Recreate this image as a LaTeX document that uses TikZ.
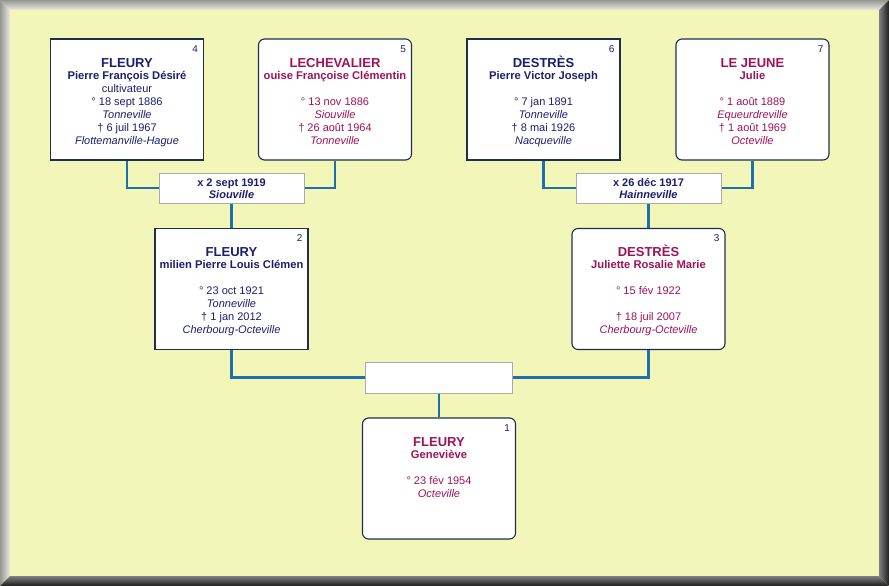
\documentclass[tikz,border=0pt]{standalone}
\usepackage{fontspec}
\setmainfont{Liberation Sans}
\definecolor{bgyel}{RGB}{243,246,185}
\definecolor{mtext}{RGB}{28,30,110}
\definecolor{ftext}{RGB}{158,18,88}
\definecolor{boxline}{RGB}{30,45,80}
\definecolor{conn}{RGB}{30,112,170}
\definecolor{mline}{RGB}{170,170,170}
\definecolor{bevlo}{RGB}{150,150,145}
\definecolor{bevli}{RGB}{235,235,228}
\definecolor{bevdo}{RGB}{30,30,30}
\definecolor{bevdi}{RGB}{128,128,128}
\tikzset{
 pbox/.style={draw=boxline, fill=white, line width=1.1pt, minimum width=153pt, minimum height=121pt, inner sep=0pt},
 febox/.style={pbox, rounded corners=6pt},
 mbox/.style={draw=mline, fill=white, line width=1pt, minimum width=145pt, minimum height=30pt, inner sep=0pt},
 link/.style={draw=conn, line width=2.5pt},
 txt/.style={anchor=base, inner sep=0pt, font=\fontsize{11}{13}\selectfont},
 sur/.style={anchor=base, inner sep=0pt, font=\fontsize{13}{15}\selectfont\bfseries},
 giv/.style={anchor=base, inner sep=0pt, font=\fontsize{11.2}{13}\selectfont\bfseries},
 plc/.style={anchor=base, inner sep=0pt, font=\fontsize{11}{13}\selectfont\itshape},
 num/.style={anchor=base east, inner sep=0pt, font=\fontsize{10}{12}\selectfont, text=mtext},
 mdate/.style={anchor=base, inner sep=0pt, font=\fontsize{11}{13}\selectfont\bfseries, text=mtext},
 mplace/.style={anchor=base, inner sep=0pt, font=\fontsize{11}{13}\selectfont\bfseries\itshape, text=mtext},
}
\begin{document}
\begin{tikzpicture}[x=1pt,y=-1pt]
\useasboundingbox (0,0) rectangle (889,586);
% frame
\fill[bgyel] (0,0) rectangle (889,586);
\shade[top color=bevlo, bottom color=bevli] (0,0) -- (889,0) -- (879,10) -- (10,10) -- cycle;
\shade[left color=bevlo, right color=bevli] (0,0) -- (10,10) -- (10,576) -- (0,586) -- cycle;
\shade[left color=bevdi, right color=bevdo] (889,0) -- (889,586) -- (879,576) -- (879,10) -- cycle;
\shade[top color=bevdi, bottom color=bevdo] (0,586) -- (10,576) -- (879,576) -- (889,586) -- cycle;

% boxes
\node[pbox] (p4) at (127,99.5) {};
\node[febox] (p5) at (335,99.5) {};
\node[pbox] (p6) at (543.5,99.5) {};
\node[febox] (p7) at (752.5,99.5) {};
\node[mbox] (m1) at (231.5,188) {};
\node[mbox] (m2) at (648.5,188) {};
\node[pbox] (p2) at (231.5,289) {};
\node[febox] (p3) at (648.5,289) {};
\node[mbox, minimum width=147pt, minimum height=31pt] (m0) at (439,377.5) {};
\node[febox] (p1) at (439,478.5) {};

% connectors
\draw[link] (p4.south) |- (m1.west);
\draw[link] (p5.south) |- (m1.east);
\draw[link] (m1.south) -- (p2.north);
\draw[link] (p6.south) |- (m2.west);
\draw[link] (p7.south) |- (m2.east);
\draw[link] (m2.south) -- (p3.north);
\draw[link] (p2.south) |- (m0.west);
\draw[link] (p3.south) |- (m0.east);
\draw[link] (m0.south) -- (p1.north);

% person 4
\node[num] (p4n) at ([xshift=-6pt,yshift=-14pt]p4.north east) {4};
\node[sur, text=mtext] (p4a) at ([yshift=-29pt]p4.north) {FLEURY};
\node[giv, text=mtext] (p4b) at ([yshift=-41pt]p4.north) {Pierre François Désiré};
\node[txt, text=mtext] (p4c) at ([yshift=-54pt]p4.north) {cultivateur};
\node[txt, text=mtext] (p4d) at ([yshift=-67pt]p4.north) {° 18 sept 1886};
\node[plc, text=mtext] (p4e) at ([yshift=-80pt]p4.north) {Tonneville};
\node[txt, text=mtext] (p4f) at ([yshift=-93pt]p4.north) {† 6 juil 1967};
\node[plc, text=mtext] (p4g) at ([yshift=-106pt]p4.north) {Flottemanville-Hague};

% person 5
\node[num] (p5n) at ([xshift=-6pt,yshift=-14pt]p5.north east) {5};
\node[sur, text=ftext] (p5a) at ([yshift=-29pt]p5.north) {LECHEVALIER};
\begin{scope}
\clip ([xshift=1pt]p5.north west) rectangle ([xshift=-1pt]p5.south east);
\node[giv, text=ftext] (p5b) at ([yshift=-41pt]p5.north) {ouise Françoise Clémentin};
\end{scope}
\node[txt, text=ftext] (p5d) at ([yshift=-67pt]p5.north) {° 13 nov 1886};
\node[plc, text=ftext] (p5e) at ([yshift=-80pt]p5.north) {Siouville};
\node[txt, text=ftext] (p5f) at ([yshift=-93pt]p5.north) {† 26 août 1964};
\node[plc, text=ftext] (p5g) at ([yshift=-106pt]p5.north) {Tonneville};

% person 6
\node[num] (p6n) at ([xshift=-6pt,yshift=-14pt]p6.north east) {6};
\node[sur, text=mtext] (p6a) at ([yshift=-29pt]p6.north) {DESTRÈS};
\node[giv, text=mtext] (p6b) at ([yshift=-41pt]p6.north) {Pierre Victor Joseph};
\node[txt, text=mtext] (p6d) at ([yshift=-67pt]p6.north) {° 7 jan 1891};
\node[plc, text=mtext] (p6e) at ([yshift=-80pt]p6.north) {Tonneville};
\node[txt, text=mtext] (p6f) at ([yshift=-93pt]p6.north) {† 8 mai 1926};
\node[plc, text=mtext] (p6g) at ([yshift=-106pt]p6.north) {Nacqueville};

% person 7
\node[num] (p7n) at ([xshift=-6pt,yshift=-14pt]p7.north east) {7};
\node[sur, text=ftext] (p7a) at ([yshift=-29pt]p7.north) {LE JEUNE};
\node[giv, text=ftext] (p7b) at ([yshift=-41pt]p7.north) {Julie};
\node[txt, text=ftext] (p7d) at ([yshift=-67pt]p7.north) {° 1 août 1889};
\node[plc, text=ftext] (p7e) at ([yshift=-80pt]p7.north) {Equeurdreville};
\node[txt, text=ftext] (p7f) at ([yshift=-93pt]p7.north) {† 1 août 1969};
\node[plc, text=ftext] (p7g) at ([yshift=-106pt]p7.north) {Octeville};

% marriages
\node[mdate] (m1a) at ([yshift=-14pt]m1.north) {x 2 sept 1919};
\node[mplace] (m1b) at ([yshift=-25.5pt]m1.north) {Siouville};
\node[mdate] (m2a) at ([yshift=-14pt]m2.north) {x 26 déc 1917};
\node[mplace] (m2b) at ([yshift=-25.5pt]m2.north) {Hainneville};

% person 2
\node[num] (p2n) at ([xshift=-6pt,yshift=-14pt]p2.north east) {2};
\node[sur, text=mtext] (p2a) at ([yshift=-29pt]p2.north) {FLEURY};
\begin{scope}
\clip ([xshift=1pt]p2.north west) rectangle ([xshift=-1pt]p2.south east);
\node[giv, text=mtext] (p2b) at ([yshift=-41pt]p2.north) {milien Pierre Louis Clémen};
\end{scope}
\node[txt, text=mtext] (p2d) at ([yshift=-67pt]p2.north) {° 23 oct 1921};
\node[plc, text=mtext] (p2e) at ([yshift=-80pt]p2.north) {Tonneville};
\node[txt, text=mtext] (p2f) at ([yshift=-93pt]p2.north) {† 1 jan 2012};
\node[plc, text=mtext] (p2g) at ([yshift=-106pt]p2.north) {Cherbourg-Octeville};

% person 3
\node[num] (p3n) at ([xshift=-6pt,yshift=-14pt]p3.north east) {3};
\node[sur, text=ftext] (p3a) at ([yshift=-29pt]p3.north) {DESTRÈS};
\node[giv, text=ftext] (p3b) at ([yshift=-41pt]p3.north) {Juliette Rosalie Marie};
\node[txt, text=ftext] (p3d) at ([yshift=-67pt]p3.north) {° 15 fév 1922};
\node[txt, text=ftext] (p3f) at ([yshift=-93pt]p3.north) {† 18 juil 2007};
\node[plc, text=ftext] (p3g) at ([yshift=-106pt]p3.north) {Cherbourg-Octeville};

% person 1
\node[num] (p1n) at ([xshift=-6pt,yshift=-14pt]p1.north east) {1};
\node[sur, text=ftext] (p1a) at ([yshift=-29pt]p1.north) {FLEURY};
\node[giv, text=ftext] (p1b) at ([yshift=-41pt]p1.north) {Geneviève};
\node[txt, text=ftext] (p1d) at ([yshift=-67pt]p1.north) {° 23 fév 1954};
\node[plc, text=ftext] (p1e) at ([yshift=-80pt]p1.north) {Octeville};
\end{tikzpicture}
\end{document}
